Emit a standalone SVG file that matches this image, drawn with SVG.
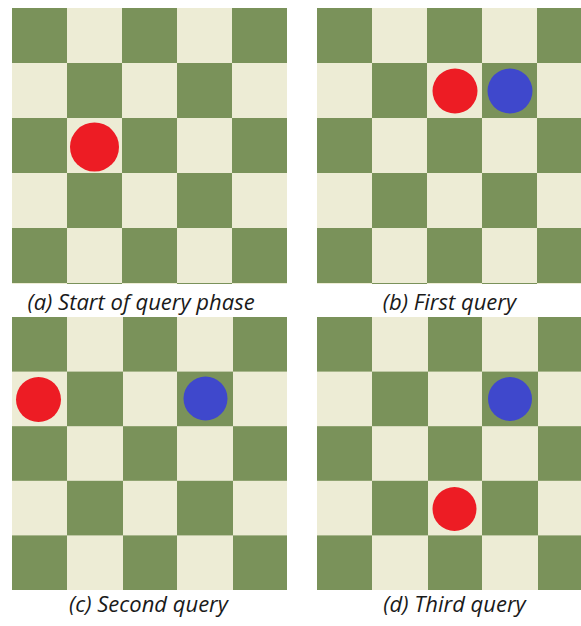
<svg xmlns="http://www.w3.org/2000/svg" width="581" height="626" viewBox="0 0 581 626">
  <defs>
    <style>
      .dk { fill: #7a925a; }
      .lt { fill: #edecd5; }
      .red { fill: #ed1c24; }
      .blue { fill: #3f48cc; }
      .cap { font-family: "Open Sans", "Noto Sans", "DejaVu Sans", sans-serif; font-style: italic; font-size: 22px; fill: #1a1a1a; text-anchor: middle; }
    </style>
    <pattern id="boardTop" x="12" y="8" width="110" height="110" patternUnits="userSpaceOnUse">
      <rect class="lt" x="0" y="0" width="110" height="110"/>
      <rect class="dk" x="0" y="0" width="55" height="55"/>
      <rect class="dk" x="55" y="55" width="55" height="55"/>
    </pattern>
    <pattern id="boardTopR" x="317" y="8" width="110" height="110" patternUnits="userSpaceOnUse">
      <rect class="lt" x="0" y="0" width="110" height="110"/>
      <rect class="dk" x="0" y="0" width="55" height="55"/>
      <rect class="dk" x="55" y="55" width="55" height="55"/>
    </pattern>
    <pattern id="boardBot" x="12" y="317" width="110" height="109.2" patternUnits="userSpaceOnUse">
      <rect class="lt" x="0" y="0" width="110" height="109.2"/>
      <rect class="dk" x="0" y="0" width="55" height="54.6"/>
      <rect class="dk" x="55" y="54.6" width="55" height="54.6"/>
    </pattern>
    <pattern id="boardBotR" x="317" y="317" width="110" height="109.2" patternUnits="userSpaceOnUse">
      <rect class="lt" x="0" y="0" width="110" height="109.2"/>
      <rect class="dk" x="0" y="0" width="55" height="54.6"/>
      <rect class="dk" x="55" y="54.6" width="55" height="54.6"/>
    </pattern>
  </defs>
  <rect x="0" y="0" width="581" height="626" fill="#ffffff"/>

  <g id="panel-a">
    <rect x="12" y="8" width="275" height="276" fill="url(#boardTop)"/>
    <g id="a-red"><circle class="red" cx="94.5" cy="147" r="24.5"/></g>
    <text class="cap" x="141" y="310">(a) Start of query phase</text>
  </g>

  <g id="panel-b">
    <rect x="317" y="8" width="264" height="276" fill="url(#boardTopR)"/>
    <g id="b-red"><circle class="red" cx="455" cy="91" r="22.5"/></g>
    <g id="b-blue"><circle class="blue" cx="510" cy="91" r="22.5"/></g>
    <text class="cap" x="449.5" y="310">(b) First query</text>
  </g>

  <g id="panel-c">
    <rect x="12" y="317" width="275" height="273" fill="url(#boardBot)"/>
    <g id="c-red"><circle class="red" cx="38.5" cy="399.5" r="22.5"/></g>
    <g id="c-blue"><circle class="blue" cx="205.5" cy="398.5" r="22"/></g>
    <text class="cap" x="148.5" y="612">(c) Second query</text>
  </g>

  <g id="panel-d">
    <rect x="317" y="317" width="264" height="273" fill="url(#boardBotR)"/>
    <g id="d-blue"><circle class="blue" cx="510" cy="399" r="22"/></g>
    <g id="d-red"><circle class="red" cx="454.5" cy="509" r="22"/></g>
    <text class="cap" x="454.5" y="612">(d) Third query</text>
  </g>

  <g id="connectors"></g>
</svg>
